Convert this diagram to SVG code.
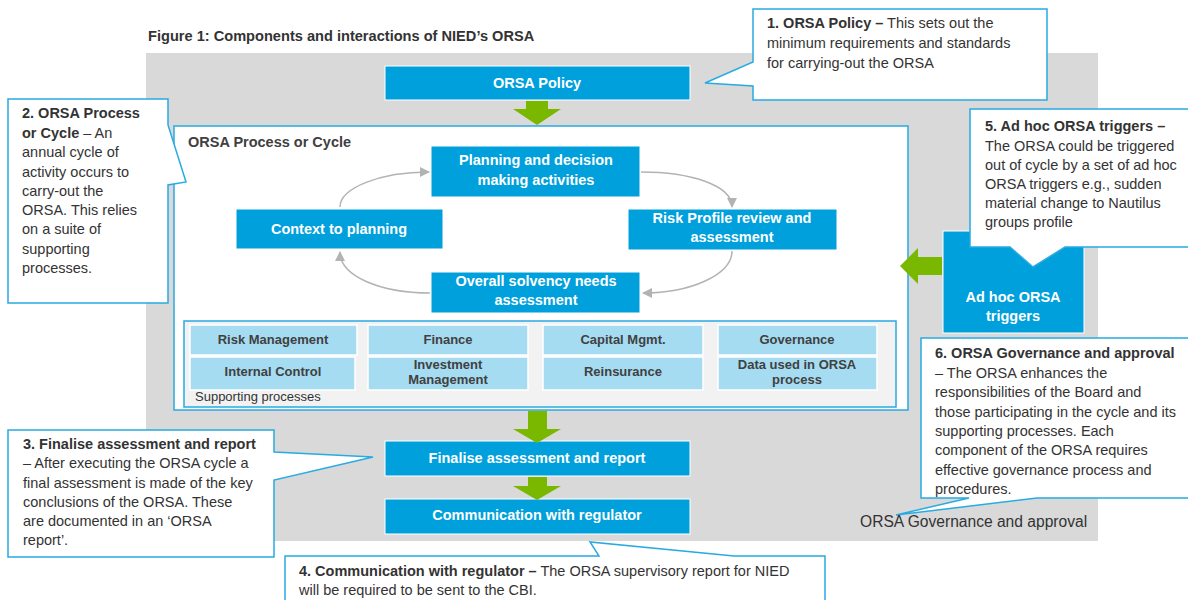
<svg xmlns="http://www.w3.org/2000/svg" width="1188" height="600" viewBox="0 0 1188 600">
<defs>
<style>
text{font-family:"Liberation Sans",Arial,sans-serif}
.bx{fill:#00a0dc;stroke:#ffffff;stroke-width:1}
.bt{fill:#ffffff;font-size:14.5px;font-weight:bold;text-anchor:middle}
.co{fill:#ffffff;stroke:#29abe2;stroke-width:1.5}
.ct{fill:#333333;font-size:14.5px}
.b{font-weight:bold}
.cell{fill:#a6dcf2;stroke:#ffffff;stroke-width:1.5}
.cl{fill:#404040;font-size:13px;font-weight:bold;text-anchor:middle}
.cyc{fill:none;stroke:#b3b3b3;stroke-width:1.5}
.gr{fill:#7ab800}
</style>
<marker id="ah" viewBox="0 0 10 10" refX="9" refY="5" markerWidth="10" markerHeight="10" markerUnits="userSpaceOnUse" orient="auto">
<path d="M0,0 L10,5 L0,10 Z" fill="#b3b3b3"/>
</marker>
</defs>
<rect width="1188" height="600" fill="#ffffff"/>
<text x="148" y="41" style="font-size:14.6px;font-weight:bold;fill:#333333">Figure 1: Components and interactions of NIED’s ORSA</text>
<rect id="bg" x="146" y="53" width="952" height="488" fill="#d9d9d9"/>

<g id="orsa-policy"><rect class="bx" x="385" y="66" width="305" height="34"/><text class="bt" x="537" y="88">ORSA Policy</text></g>

<g id="process-cycle">
<rect x="174" y="126" width="734" height="284" fill="#ffffff" stroke="#29abe2" stroke-width="1.5"/>
<text x="188" y="147" style="font-size:14.5px;font-weight:bold;fill:#404040">ORSA Process or Cycle</text>
</g>

<g id="planning"><rect class="bx" x="431" y="146" width="209" height="51"/><text class="bt" x="536" y="165">Planning and decision</text><text class="bt" x="536" y="185">making activities</text></g>
<g id="context"><rect class="bx" x="236" y="209" width="207" height="40"/><text class="bt" x="339" y="234">Context to planning</text></g>
<g id="risk"><rect class="bx" x="628" y="209" width="209" height="41"/><text class="bt" x="732" y="223">Risk Profile review and</text><text class="bt" x="732" y="242">assessment</text></g>
<g id="solvency"><rect class="bx" x="431" y="272" width="209" height="41"/><text class="bt" x="536" y="286">Overall solvency needs</text><text class="bt" x="536" y="305">assessment</text></g>

<g id="supporting">
<rect x="184" y="321" width="712" height="86" fill="#f2f2f2" stroke="#29abe2" stroke-width="1.5"/>
<text x="195" y="401" style="font-size:13px;fill:#333333">Supporting processes</text>
<rect class="cell" x="190" y="325" width="167" height="30"/><text class="cl" x="273" y="344">Risk Management</text>
<rect class="cell" x="368" y="325" width="160" height="30"/><text class="cl" x="448" y="344">Finance</text>
<rect class="cell" x="543" y="325" width="160" height="30"/><text class="cl" x="623" y="344">Capital Mgmt.</text>
<rect class="cell" x="718" y="325" width="159" height="30"/><text class="cl" x="797" y="344">Governance</text>
<rect class="cell" x="190" y="357" width="165" height="33"/><text class="cl" x="273" y="376">Internal Control</text>
<rect class="cell" x="368" y="357" width="160" height="33"/><text class="cl" x="448" y="369">Investment</text><text class="cl" x="448" y="384">Management</text>
<rect class="cell" x="543" y="357" width="160" height="33"/><text class="cl" x="623" y="376">Reinsurance</text>
<rect class="cell" x="718" y="357" width="159" height="33"/><text class="cl" x="797" y="369">Data used in ORSA</text><text class="cl" x="797" y="384">process</text>
</g>

<g id="finalise"><rect class="bx" x="385" y="441" width="305" height="35"/><text class="bt" x="537" y="463">Finalise assessment and report</text></g>
<g id="communication"><rect class="bx" x="385" y="499" width="305" height="35"/><text class="bt" x="537" y="520">Communication with regulator</text></g>
<g id="adhoc"><rect class="bx" x="943" y="231" width="141" height="102"/><text class="bt" x="1013" y="302">Ad hoc ORSA</text><text class="bt" x="1013" y="321">triggers</text></g>

<g id="connectors">
<path class="cyc" d="M340,207 C340,188 380,172 429,172" marker-end="url(#ah)"/>
<path class="cyc" d="M641,172 C690,172 732,185 732,207" marker-end="url(#ah)"/>
<path class="cyc" d="M732,251 C732,275 690,293 643,293" marker-end="url(#ah)"/>
<path class="cyc" d="M430,293 C380,293 340,276 340,252" marker-end="url(#ah)"/>
<polygon class="gr" points="526,101 548,101 548,109 561,109 537,125 513,109 526,109"/>
<polygon class="gr" points="528,411 547,411 547,429 561,429 537,443 513,429 528,429"/>
<polygon class="gr" points="528,477 547,477 547,486 561,486 537,500 513,486 528,486"/>
<polygon class="gr" points="942,257 942,275 918,275 918,284 900,266 918,248 918,257"/>
</g>

<g id="callout-1">
<path class="co" d="M753,9 H1047 V100 H753 V86 L705,83 L753,62 Z"/>
<text class="ct" x="767" y="28"><tspan class="b">1. ORSA Policy –</tspan> This sets out the</text>
<text class="ct" x="767" y="48">minimum requirements and standards</text>
<text class="ct" x="767" y="68">for carrying-out the ORSA</text>
</g>

<g id="callout-2">
<path class="co" d="M8,99 H168 V125 L186,182 L168,185 V303 H8 Z"/>
<text class="ct" x="22" y="118"><tspan class="b">2. ORSA Process</tspan></text>
<text class="ct" x="22" y="138"><tspan class="b">or Cycle</tspan> – An</text>
<text class="ct" x="22" y="157">annual cycle of</text>
<text class="ct" x="22" y="177">activity occurs to</text>
<text class="ct" x="22" y="196">carry-out the</text>
<text class="ct" x="22" y="215">ORSA. This relies</text>
<text class="ct" x="22" y="234">on a suite of</text>
<text class="ct" x="22" y="254">supporting</text>
<text class="ct" x="22" y="273">processes.</text>
</g>

<g id="callout-5">
<path class="co" d="M970,109 H1196 V247 H1065 L1033,267 L1010,247 H970 Z"/>
<text class="ct" x="985" y="131"><tspan class="b">5. Ad hoc ORSA triggers –</tspan></text>
<text class="ct" x="985" y="151">The ORSA could be triggered</text>
<text class="ct" x="985" y="170">out of cycle by a set of ad hoc</text>
<text class="ct" x="985" y="189">ORSA triggers e.g., sudden</text>
<text class="ct" x="985" y="208">material change to Nautilus</text>
<text class="ct" x="985" y="227">groups profile</text>
</g>

<g id="callout-6">
<path class="co" d="M921,338 H1196 V498 H1037 L896,515 L969,498 H921 Z"/>
<text class="ct" x="935" y="358"><tspan class="b">6. ORSA Governance and approval</tspan></text>
<text class="ct" x="935" y="378">– The ORSA enhances the</text>
<text class="ct" x="935" y="397">responsibilities of the Board and</text>
<text class="ct" x="935" y="417">those participating in the cycle and its</text>
<text class="ct" x="935" y="436">supporting processes. Each</text>
<text class="ct" x="935" y="455">component of the ORSA requires</text>
<text class="ct" x="935" y="475">effective governance process and</text>
<text class="ct" x="935" y="494">procedures.</text>
</g>
<text id="governance-label" x="860" y="527" style="font-size:15.6px;fill:#333333">ORSA Governance and approval</text>

<g id="callout-3">
<path class="co" d="M8,430 H274 V452 L373,457 L274,480 V557 H8 Z"/>
<text class="ct" x="23" y="449"><tspan class="b">3. Finalise assessment and report</tspan></text>
<text class="ct" x="23" y="468">– After executing the ORSA cycle a</text>
<text class="ct" x="23" y="488">final assessment is made of the key</text>
<text class="ct" x="23" y="507">conclusions of the ORSA. These</text>
<text class="ct" x="23" y="526">are documented in an ‘ORSA</text>
<text class="ct" x="23" y="545">report’.</text>
</g>

<g id="callout-4">
<path class="co" d="M285,556 H599 L590,542 L734,556 H825 V612 H285 Z"/>
<text class="ct" x="299" y="576"><tspan class="b">4. Communication with regulator –</tspan> The ORSA supervisory report for NIED</text>
<text class="ct" x="299" y="595">will be required to be sent to the CBI.</text>
</g>
</svg>
